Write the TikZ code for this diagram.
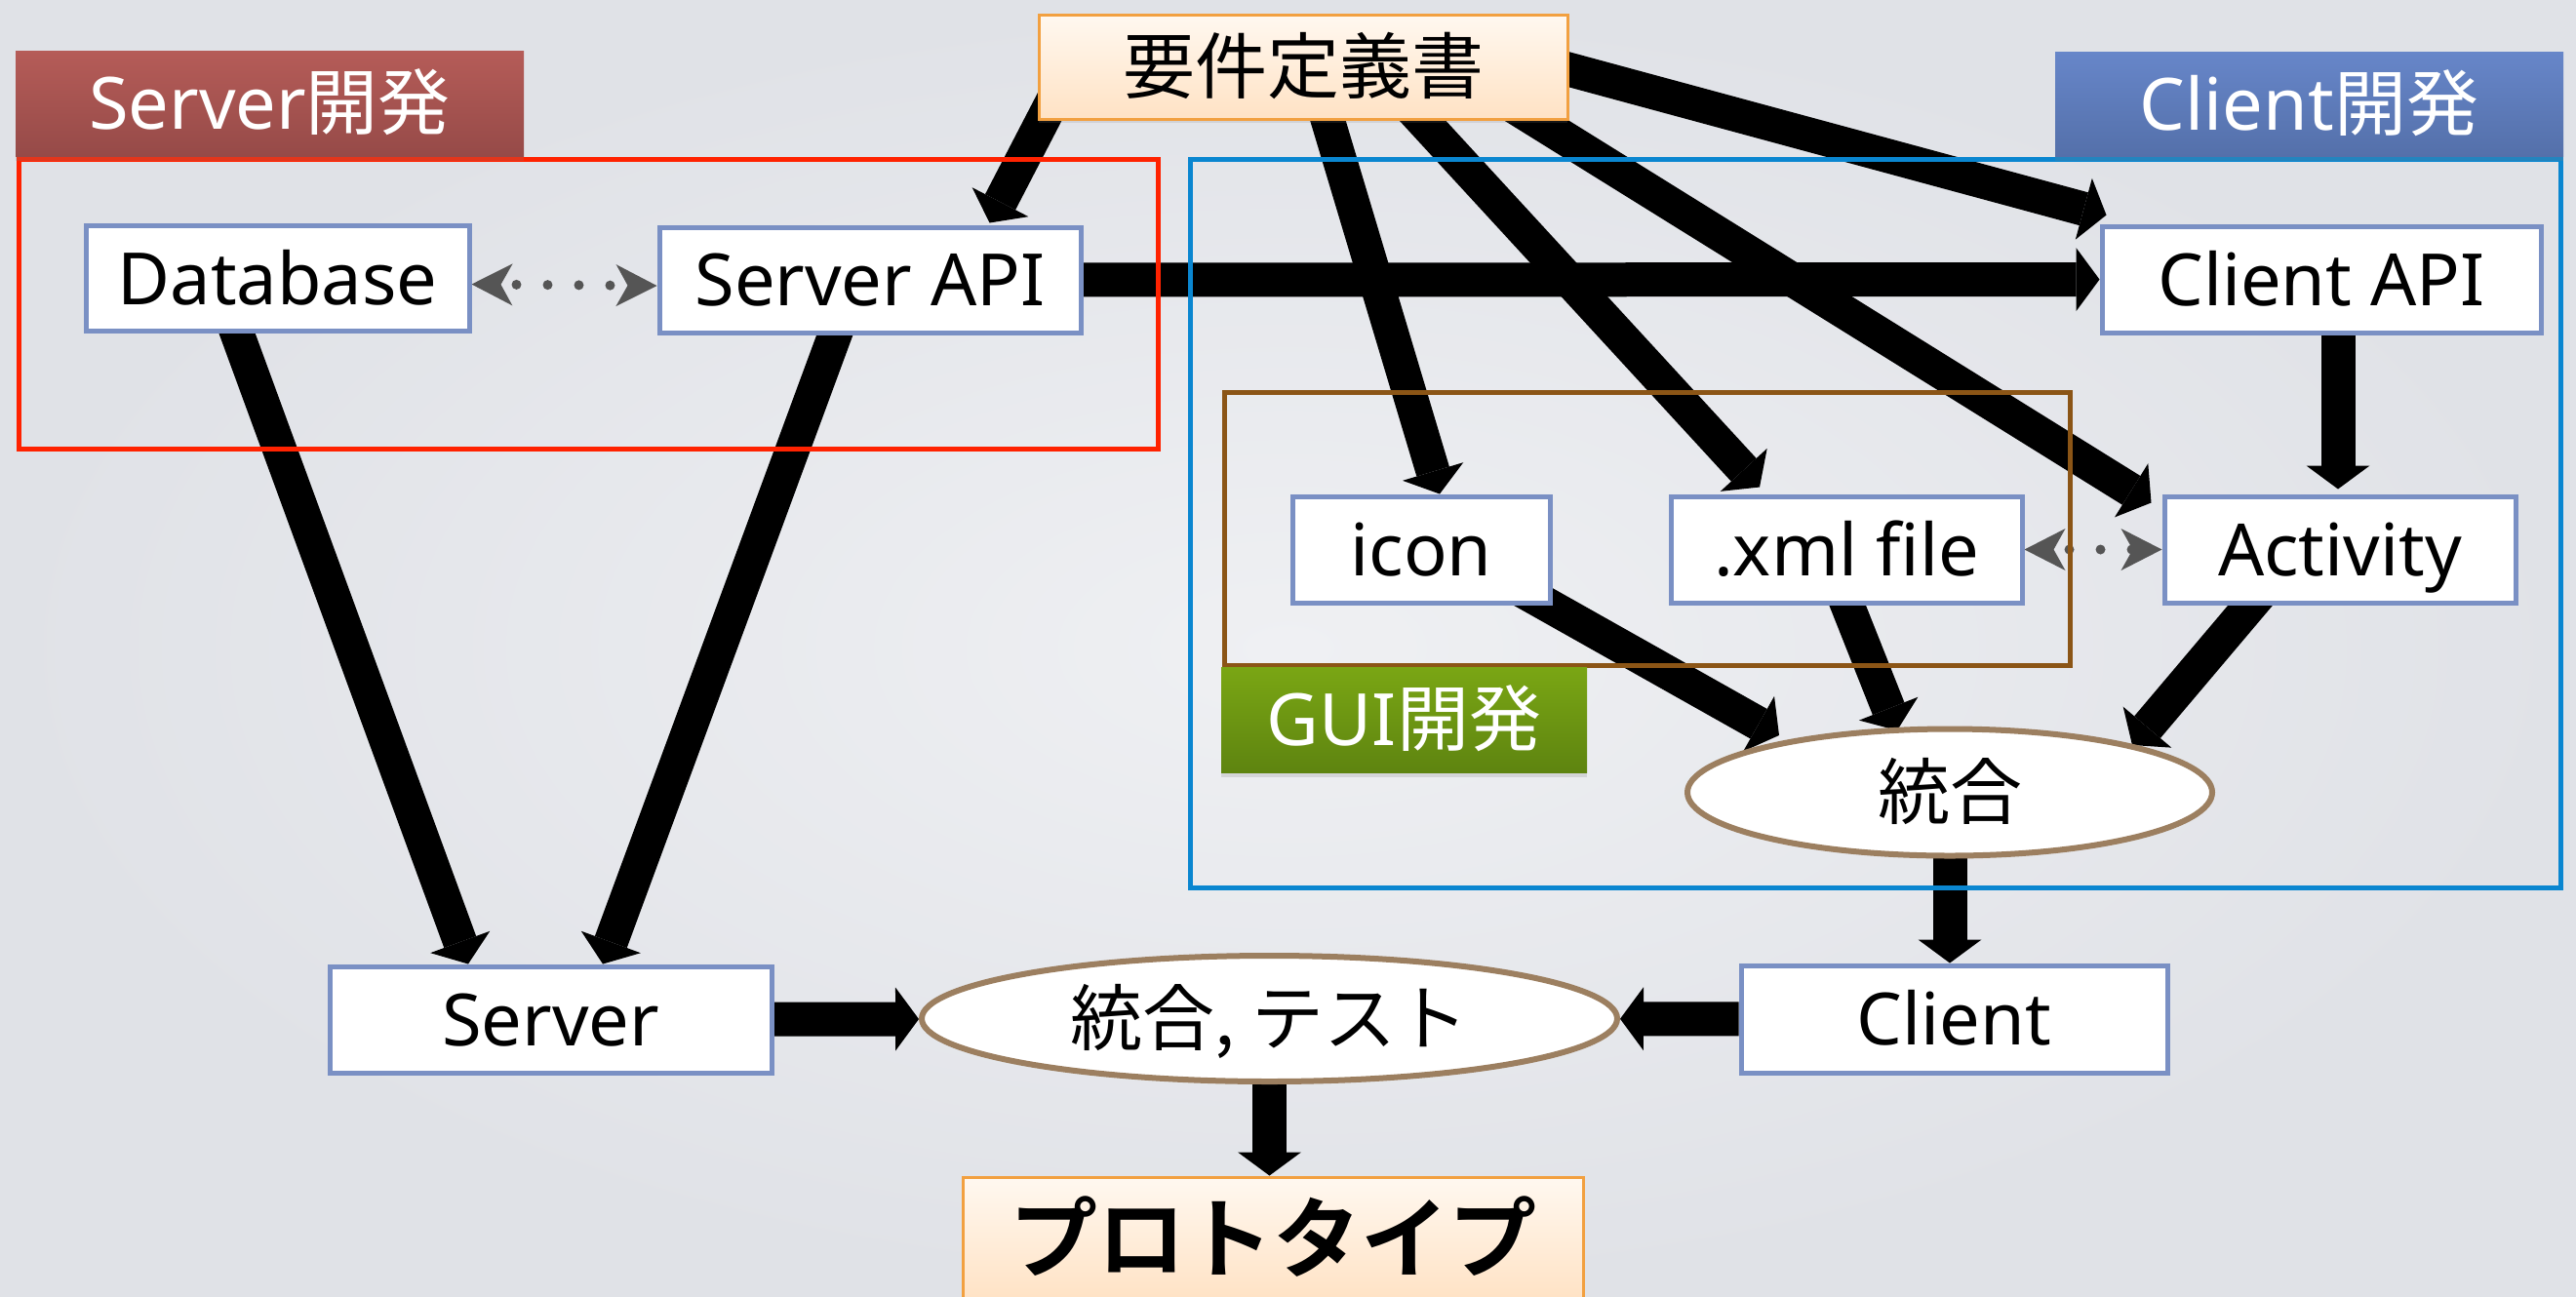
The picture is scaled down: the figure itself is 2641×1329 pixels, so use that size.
\documentclass[tikz,border=0pt]{standalone}
\usepackage{fontspec}
\setmainfont{Noto Sans}
\newfontfamily\jp{Noto Sans CJK JP}
\newfontfamily\jpbold{Noto Sans CJK JP Bold}
\usetikzlibrary{arrows.meta,calc,shapes.geometric,shadows}

% palette
\definecolor{bgin}{RGB}{239,240,243}
\definecolor{bgout}{RGB}{224,226,231}
\definecolor{boxline}{RGB}{122,144,196}
\definecolor{ovalline}{RGB}{156,127,96}
\definecolor{docline}{RGB}{242,160,64}
\definecolor{doctop}{RGB}{255,248,240}
\definecolor{docbottom}{RGB}{255,226,196}
\definecolor{srvtop}{RGB}{181,92,88}
\definecolor{srvbottom}{RGB}{150,74,72}
\definecolor{clitop}{RGB}{103,134,201}
\definecolor{clibottom}{RGB}{84,112,170}
\definecolor{guitop}{RGB}{122,166,20}
\definecolor{guibottom}{RGB}{94,132,16}
\definecolor{srvframe}{RGB}{255,34,0}
\definecolor{cliframe}{RGB}{10,134,208}
\definecolor{guiframe}{RGB}{139,85,22}
\definecolor{dotgray}{RGB}{85,85,85}

\pgfdeclarelayer{back}
\pgfdeclarelayer{links}
\pgfsetlayers{back,links,main}

\newcommand\nodefont{\fontsize{37pt}{44pt}\selectfont}
\newcommand\protofont{\fontsize{45pt}{52pt}\selectfont}

\tikzset{
  itembox/.style={draw=boxline, line width=2.5pt, fill=white, inner sep=0pt,
    font=\nodefont, text height=26.6pt, text depth=0pt},
  ovalnode/.style={ellipse, draw=ovalline, line width=3pt, fill=white, inner sep=0pt,
    font=\nodefont, text height=26.6pt, text depth=0pt},
  docbox/.style={draw=docline, line width=1.5pt, top color=doctop, bottom color=docbottom,
    inner sep=0pt, drop shadow={shadow xshift=0pt, shadow yshift=-2pt, opacity=0.18}},
  teamtag/.style={inner sep=0pt, text=white, font=\nodefont, text height=26.6pt, text depth=0pt,
    drop shadow={shadow xshift=0pt, shadow yshift=-2.5pt, opacity=0.22}},
  areaframe/.style={draw, line width=2.5pt, inner sep=0pt},
  flowarrow/.style={black, line width=17.5pt,
    arrows={-Triangle[width=32.5pt,length=12pt,line width=0pt]}},
  linkarrow/.style={dotgray, line width=5pt, line cap=round,
    dash pattern=on 0pt off 16pt, dash phase=8pt,
    arrows={Stealth[length=21pt,width=21.5pt,inset=6pt,line width=0pt]-Stealth[length=21pt,width=21.5pt,inset=6pt,line width=0pt]}}
}

\begin{document}
\begin{tikzpicture}[x=0.5pt,y=-0.5pt]
\useasboundingbox (0,0) rectangle (2641,1329);
\begin{pgfonlayer}{back}
  \shade[inner color=bgin, outer color=bgout] (0,0) rectangle (2641,1329);
\end{pgfonlayer}

% working areas
\node[areaframe, draw=srvframe, minimum width=584pt, minimum height=148.5pt] (sframe) at (603,311.5) {};
\node[areaframe, draw=cliframe, minimum width=702.5pt, minimum height=373.5pt] (cframe) at (1922.5,536.5) {};
\node[areaframe, draw=guiframe, minimum width=433.5pt, minimum height=140pt] (gframe) at (1688.5,542) {};

% team tags
\node[teamtag, top color=srvtop, bottom color=srvbottom, minimum width=260.5pt, minimum height=54pt]
  (stag) at (276.5,106) {Server{\jp 開発}};
\node[teamtag, top color=clitop, bottom color=clibottom, minimum width=260.5pt, minimum height=53.5pt]
  (ctag) at (2367.5,106.5) {Client{\jp 開発}};
\node[teamtag, top color=guitop, bottom color=guibottom, minimum width=187.5pt, minimum height=54pt]
  (gtag) at (1439.5,738) {GUI{\jp 開発}};

% documents
\node[docbox, minimum width=271pt, minimum height=53.5pt, font=\nodefont, text height=26.6pt, text depth=0pt]
  (req) at (1336,68.5) {\jp 要件定義書};
\node[docbox, minimum width=318pt, minimum height=64pt, font=\protofont, text height=32pt, text depth=0pt]
  (proto) at (1305,1271) {\jpbold プロトタイプ};

% work items
\node[itembox, minimum width=196.5pt, minimum height=54pt] (db) at (284.5,285.5) {Database};
\node[itembox, minimum width=216pt, minimum height=54pt] (sapi) at (892,287) {Server API};
\node[itembox, minimum width=225pt, minimum height=54.5pt] (capi) at (2380,286.5) {Client API};
\node[itembox, minimum width=132pt, minimum height=54.5pt] (icon) at (1457,563.5) {icon};
\node[itembox, minimum width=180pt, minimum height=54.5pt] (xml) at (1893,563.5) {.xml file};
\node[itembox, minimum width=180pt, minimum height=54.5pt] (act) at (2399,563.5) {Activity};
\node[itembox, minimum width=226.5pt, minimum height=54.5pt] (server) at (564.5,1045.5) {Server};
\node[itembox, minimum width=218.5pt, minimum height=55pt] (client) at (2003.5,1045) {Client};

% integration steps
\node[ovalnode, minimum width=269pt, minimum height=65pt] (int) at (1999,812.5) {\jp 統合};
\node[ovalnode, minimum width=356.5pt, minimum height=64.5pt] (inttest) at (1301.5,1044.5) {\jp 統合, テスト};

% dependencies, drawn beneath the boxes
\begin{pgfonlayer}{links}
  \draw[flowarrow] ($(req.south west)+(22,-32)$) -- ($(sapi.north east)+(-96,-2)$);
  \draw[flowarrow] ($(req.east)+(-47,-10)$) -- ($(capi.north west)+(7,-9)$);
  \draw[flowarrow] ($(req.south)+(17,-28)$) -- ($(icon.north)+(19,0)$);
  \draw[flowarrow] ($(req.south)+(103,-21)$) -- ($(xml.north)+(-89,-7)$);
  \draw[flowarrow] ($(req.south)+(215,-15)$) -- ($(act.north west)+(-11,9)$);
  \draw[flowarrow] (sapi) -- (capi);
  \draw[flowarrow] ($(capi.south)+(17,-5)$) -- ($(act.north)+(-2,-5)$);
  \draw[flowarrow] ($(db.south)+(-46.5,-14)$) -- ($(server.north)+(-84.5,0)$);
  \draw[flowarrow] ($(sapi.south)+(-31,-14)$) -- ($(server.north)+(53.5,0)$);
  \draw[flowarrow] ($(icon.south east)+(-40,-20)$) -- ($(int.center)+(-175,-58.5)$);
  \draw[flowarrow] ($(xml.south)+(-4.5,-14)$) -- ($(int.center)+(-54,-63.5)$);
  \draw[flowarrow] ($(act.south)+(-79,-15)$) -- ($(int.center)+(187,-48.5)$);
  \draw[flowarrow] ($(int.center)+(0,50)$) -- (int.center |- client.north);
  \draw[flowarrow] (server) -- (inttest);
  \draw[flowarrow] (client) -- (inttest);
  \draw[flowarrow] (inttest.south) -- (inttest.south |- proto.north);
  \draw[linkarrow] ([yshift=-3pt]db.east) -- ([yshift=-3pt]sapi.west);
  \draw[linkarrow] (xml) -- (act);
\end{pgfonlayer}
\end{tikzpicture}
\end{document}
